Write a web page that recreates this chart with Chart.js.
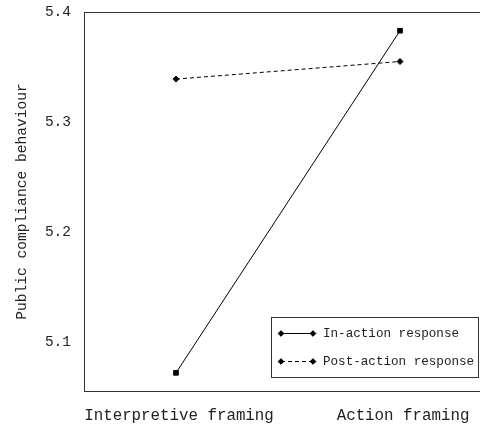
<!DOCTYPE html>
<html>
<head>
<meta charset="utf-8">
<script src="https://cdn.jsdelivr.net/npm/chart.js@4.4.0/dist/chart.umd.min.js"></script>
<style>
  html, body { margin: 0; padding: 0; background: #fff; }
  #wrap { width: 480px; height: 428px; }
</style>
</head>
<body>
<div id="wrap"><canvas id="chart" width="480" height="428"></canvas></div>
<script>
const categories = ["Interpretive framing", "Action framing"];
const seriesNames = ["In-action response", "Post-action response"];
const inAction = [5.072, 5.383];
const postAction = [5.339, 5.355];
const yTicks = [5.1, 5.2, 5.3, 5.4];
const yMin = 5.0555;
const yMax = 5.4;

const FONT = "'Liberation Mono', 'DejaVu Sans Mono', monospace";
const INK = "#222";

const toPoints = (arr) => arr.map((y, i) => ({ x: i, y }));

// top border of the plot box (left and bottom come from the axes)
const boxTop = {
  id: "boxTop",
  afterDraw(chart) {
    const { ctx, chartArea } = chart;
    ctx.save();
    ctx.strokeStyle = "#333";
    ctx.lineWidth = 1;
    ctx.beginPath();
    ctx.moveTo(chartArea.left, chartArea.top + 0.5);
    ctx.lineTo(chartArea.right, chartArea.top + 0.5);
    ctx.stroke();
    ctx.restore();
  },
};

// boxed legend inside the plot, line sample with a marker at both ends
const boxLegend = {
  id: "boxLegend",
  afterDraw(chart) {
    const { ctx, chartArea } = chart;
    const right = chartArea.right - 1.5;
    const bottom = chartArea.bottom - 13.5;
    const left = 271.5;
    const top = 317.5;
    ctx.save();
    ctx.strokeStyle = "#333";
    ctx.lineWidth = 1;
    ctx.strokeRect(left, top, right - left, bottom - top);
    ctx.font = "12.6px " + FONT;
    ctx.textBaseline = "middle";
    ctx.fillStyle = INK;
    chart.data.datasets.forEach((ds, i) => {
      const y = 333.5 + i * 28;
      ctx.strokeStyle = "#000";
      ctx.setLineDash(ds.borderDash || []);
      ctx.beginPath();
      ctx.moveTo(281, y);
      ctx.lineTo(313, y);
      ctx.stroke();
      ctx.setLineDash([]);
      [281, 313].forEach((x) => {
        Chart.helpers.drawPoint(ctx, { pointStyle: "rectRot", radius: 2.8, rotation: 0, borderWidth: 1 }, x, y);
        ctx.fillStyle = "#000";
        ctx.fill();
      });
      ctx.fillStyle = INK;
      ctx.fillText(ds.label, 323, y);
    });
    ctx.restore();
  },
};

new Chart(document.getElementById("chart"), {
  type: "line",
  data: {
    datasets: [
      {
        label: seriesNames[0],
        data: toPoints(inAction),
        borderColor: "#000",
        backgroundColor: "#000",
        borderWidth: 1,
        pointStyle: "rect",
        pointRadius: 3.3,
        pointBorderWidth: 1,
      },
      {
        label: seriesNames[1],
        data: toPoints(postAction),
        borderColor: "#000",
        backgroundColor: "#000",
        borderWidth: 1,
        borderDash: [4, 3],
        pointStyle: "rectRot",
        pointRadius: 3,
        pointBorderWidth: 1,
      },
    ],
  },
  options: {
    responsive: false,
    animation: false,
    layout: { autoPadding: false, padding: { top: 12, right: 0, bottom: 0, left: 0 } },
    plugins: { legend: { display: false }, tooltip: { enabled: false } },
    scales: {
      x: {
        type: "linear",
        min: -0.4107,
        max: 1.357,
        afterBuildTicks: (scale) => {
          scale.ticks = categories.map((_, i) => ({ value: i }));
        },
        afterFit: (scale) => {
          scale.height = 37;
          scale.paddingLeft = 0;
          scale.paddingRight = 0;
        },
        ticks: {
          callback: (v) => categories[v],
          font: { family: FONT, size: 15.8 },
          color: INK,
          padding: 15,
          labelOffset: 3,
          maxRotation: 0,
          autoSkip: false,
        },
        grid: { display: false, drawTicks: false },
        border: { display: true, color: "#333", width: 1 },
      },
      y: {
        min: yMin,
        max: yMax,
        afterBuildTicks: (scale) => {
          scale.ticks = yTicks.map((value) => ({ value }));
        },
        afterFit: (scale) => {
          scale.width = 84;
          scale.paddingTop = 0;
          scale.paddingBottom = 0;
        },
        ticks: {
          callback: (v) => v.toFixed(1),
          font: { family: FONT, size: 14.5 },
          color: INK,
          padding: 13,
        },
        title: {
          display: true,
          text: "Public compliance behaviour",
          font: { family: FONT, size: 14.6 },
          color: INK,
          padding: { top: 13, bottom: 0 },
        },
        grid: { display: false, drawTicks: false },
        border: { display: true, color: "#333", width: 1 },
      },
    },
  },
  plugins: [boxTop, boxLegend],
});
</script>
</body>
</html>
